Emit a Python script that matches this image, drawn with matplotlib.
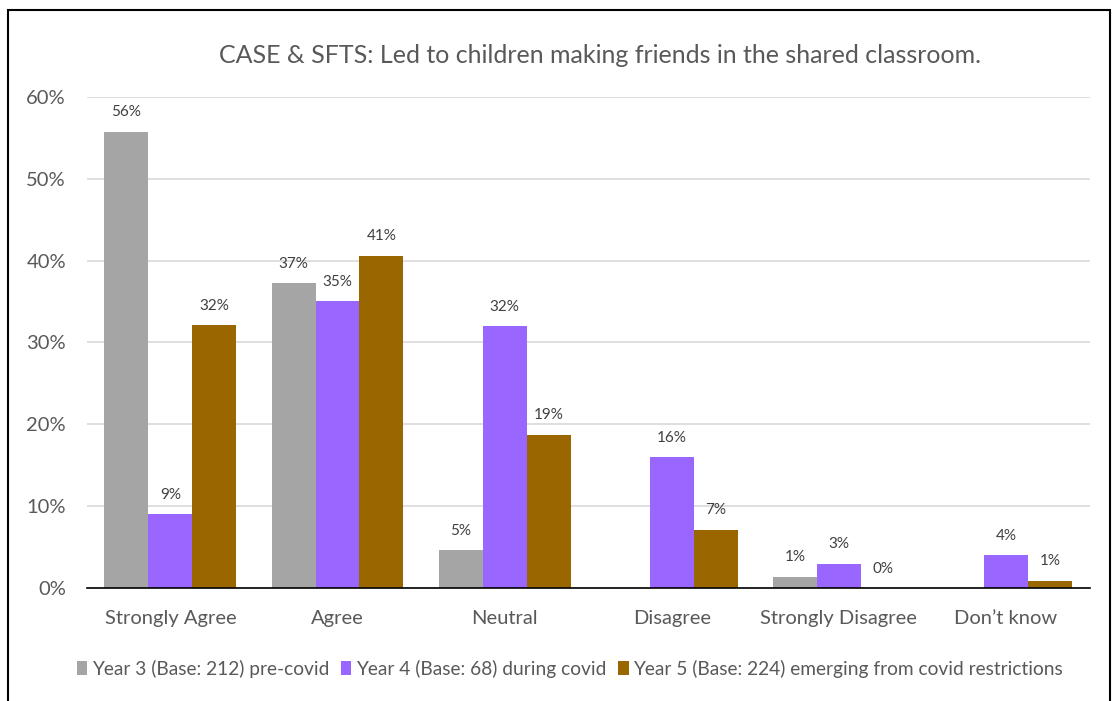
import numpy as np
import matplotlib.pyplot as plt
from matplotlib.patches import Rectangle

categories = ["Strongly Agree", "Agree", "Neutral", "Disagree", "Strongly Disagree", "Don\u2019t know"]
series_names = ["Year 3 (Base: 212) pre-covid",
                "Year 4 (Base: 68) during covid",
                "Year 5 (Base: 224) emerging from covid restrictions"]
year3 = [55.7, 37.2, 4.6, np.nan, 1.4, np.nan]
year4 = [9.0, 35.0, 32.0, 16.0, 3.0, 4.0]
year5 = [32.1, 40.6, 18.7, 7.1, 0.0, 0.9]
colors = ["#A5A5A5", "#9966FF", "#996600"]
yticks = [0, 10, 20, 30, 40, 50, 60]

plt.rcParams['font.family'] = ['Lato', 'DejaVu Sans']
text_col = "#595959"

fig = plt.figure(figsize=(11.13, 7.01), dpi=100)
ax = fig.add_axes([0.078, 0.161, 0.901, 0.701])

x = np.arange(len(categories))
w = 0.263
for i, (vals, name, c) in enumerate(zip([year3, year4, year5], series_names, colors)):
    pos = x + (i - 1) * w
    ax.bar(pos, vals, width=w, color=c, label=name, zorder=2)
    for px, v in zip(pos, vals):
        if np.isnan(v):
            continue
        ax.annotate(f"{v:.0f}%", (px, v), xytext=(0, 9), textcoords="offset points",
                    ha="center", va="bottom", fontsize=11, color="#404040")

ax.set_xlim(-0.5, len(categories) - 0.5)
ax.set_ylim(0, 60)
ax.set_yticks(yticks)
ax.set_yticklabels([f"{t}%" for t in yticks])
ax.set_xticks(x)
ax.set_xticklabels(categories)
ax.tick_params(axis="y", length=0, pad=15, labelsize=14.5, labelcolor=text_col)
ax.tick_params(axis="x", length=0, pad=16, labelsize=14.5, labelcolor=text_col)
ax.grid(axis="y", color="#D9D9D9", linewidth=1.2, zorder=0)
for s in ["top", "right", "left"]:
    ax.spines[s].set_visible(False)
ax.spines["bottom"].set_color("#000000")
ax.spines["bottom"].set_linewidth(1.2)
ax.spines["bottom"].set_zorder(3)

fig.text(0.539, 0.921, "CASE & SFTS: Led to children making friends in the shared classroom.",
         ha="center", va="center", fontsize=18, color=text_col)

fig.legend(loc="center", bbox_to_anchor=(0.512, 0.046), ncol=3, frameon=False,
           fontsize=13.8, labelcolor=text_col, handlelength=0.55, handleheight=0.7,
           handletextpad=0.25, columnspacing=0.6)

# outer border of the chart area
fig.add_artist(Rectangle((8 / 1113, -0.02), 1102 / 1113, 1 - 10 / 701 + 0.02,
                         transform=fig.transFigure, fill=False, edgecolor="black",
                         linewidth=1.5))

fig.savefig("out.png", dpi=100)
